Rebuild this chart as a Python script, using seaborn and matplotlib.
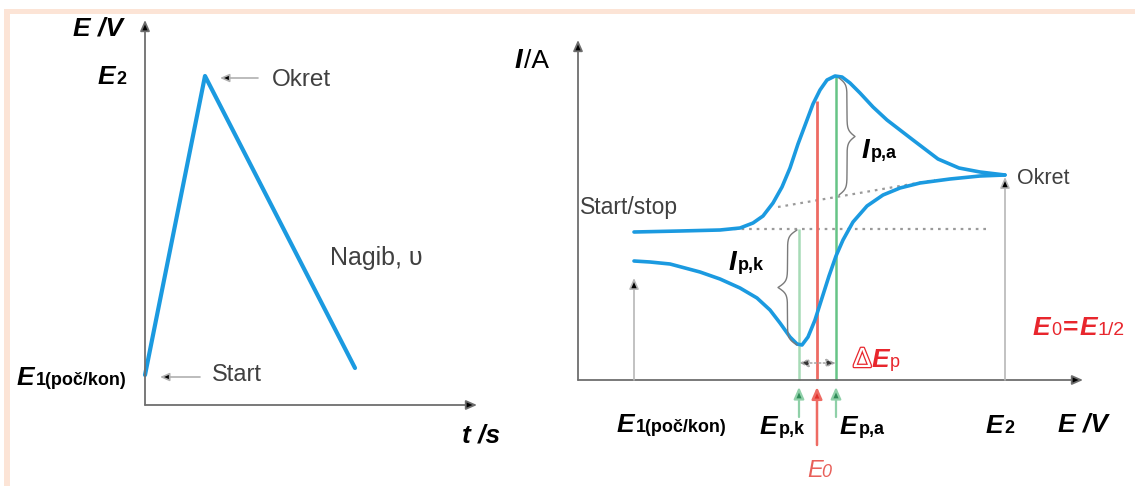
import numpy as np
import matplotlib
matplotlib.use('Agg')
import matplotlib.pyplot as plt
import matplotlib.patheffects as pe
from matplotlib.patches import Rectangle
import seaborn as sns

# Potential sweep (left panel), schematic units
sweep_t = [0.00, 0.60, 2.10]
sweep_E = [0.30, 3.29, 0.37]

# Cyclic voltammogram (right panel), schematic units
fwd_E = [0.56, 1.02, 1.42, 1.62, 1.75, 1.85, 1.95, 2.04, 2.12, 2.20, 2.29, 2.35, 2.42,
         2.49, 2.57, 2.64, 2.72, 2.82, 2.95, 3.09, 3.22, 3.35, 3.60, 3.81, 4.02, 4.27]
fwd_I = [1.48, 1.49, 1.50, 1.52, 1.57, 1.64, 1.77, 1.93, 2.12, 2.36, 2.60, 2.76, 2.90,
         3.00, 3.04, 3.03, 2.97, 2.87, 2.73, 2.60, 2.50, 2.40, 2.21, 2.12, 2.08, 2.05]
rev_E = [4.27, 4.02, 3.72, 3.42, 3.22, 3.05, 2.89, 2.75, 2.65, 2.58, 2.51, 2.44, 2.37,
         2.30, 2.24, 2.19, 2.12, 2.02, 1.92, 1.79, 1.62, 1.42, 1.22, 0.92, 0.72, 0.56]
rev_I = [2.05, 2.04, 2.01, 1.97, 1.92, 1.85, 1.74, 1.58, 1.40, 1.24, 1.04, 0.82, 0.60,
         0.43, 0.35, 0.36, 0.43, 0.57, 0.70, 0.82, 0.92, 1.01, 1.08, 1.16, 1.18, 1.19]

E_start, E_pk, E_0, E_pa, E_turn = 0.56, 2.21, 2.39, 2.58, 4.27
I_pa, I_0 = 3.03, 2.79
I_base = 1.51                         # horizontal baseline
slope_E = [2.00, 3.57]                # slanted baseline
slope_I = [1.73, 2.00]

W, H = 1135, 486
BLUE = '#1b9ae0'
GRAY = '#6e6e6e'
TXT = '#404040'
RED = '#e8262d'

sns.set_style('white')
plt.rcParams['font.family'] = ['Liberation Sans', 'DejaVu Sans']

fig = plt.figure(figsize=(W / 100, H / 100), dpi=100)
fig.patch.set_facecolor('white')

# pale frame on top and left
fig.add_artist(Rectangle((4 / W, 0), 6 / W, 1 - 9 / H, transform=fig.transFigure,
                         color='#fce4d6', lw=0))
fig.add_artist(Rectangle((4 / W, 1 - 14 / H), 1 - 4 / W, 5 / H, transform=fig.transFigure,
                         color='#fce4d6', lw=0))


def box(x0, y0, x1, y1):
    return [x0 / W, 1 - y1 / H, (x1 - x0) / W, (y1 - y0) / H]


def arrow(ax, tip, tail, fc='black', ec=GRAY, lw=1.3, ms=13, ls='-'):
    ax.annotate('', xy=tip, xytext=tail,
                arrowprops=dict(arrowstyle='-|>,head_length=0.5,head_width=0.22',
                                fc=fc, ec=ec, lw=lw, mutation_scale=ms,
                                shrinkA=0, shrinkB=0, ls=ls))


renderer = fig.canvas.get_renderer()


def label(x, y, parts, color='black'):
    # parts: (text, size, weight, style) drawn left to right on one baseline
    cx = x
    for s, size, weight, style in parts:
        t = fig.text(cx / W, 1 - y / H, s, fontsize=size, fontweight=weight,
                     fontstyle=style, color=color, ha='left', va='baseline')
        cx = t.get_window_extent(renderer).x1 + 1
    return cx


def brace(ax, x, y0, y1, w, direction, beta=32):
    n = 201
    ys = np.linspace(y0, y1, n)
    half = ys[:n // 2 + 1]
    off = 1 / (1 + np.exp(-beta * (half - half[0]))) + 1 / (1 + np.exp(-beta * (half - half[-1])))
    off = np.concatenate((off, off[-2::-1]))
    xs = x + direction * (off - 0.5) * w
    ax.plot(xs, ys, color='#7a7a7a', lw=1.0)


# ---------------- left panel: E vs t ----------------
axL = fig.add_axes(box(130, 10, 490, 420))
axL.set_xlim(-0.15, 3.45)
axL.set_ylim(-0.15, 3.95)
axL.axis('off')
arrow(axL, (0, 3.85), (0, 0))
arrow(axL, (3.32, 0), (0, 0))
sns.lineplot(x=sweep_t, y=sweep_E, ax=axL, sort=False, estimator=None,
             color=BLUE, lw=3.0)
arrow(axL, (sweep_t[1] + 0.15, sweep_E[1] - 0.02), (sweep_t[1] + 0.53, sweep_E[1] - 0.02),
      ec='#b0b0b0', lw=1.2, ms=11)
arrow(axL, (0.15, 0.28), (0.55, 0.28), ec='#b0b0b0', lw=1.2, ms=11)

label(73, 36, [('E /V', 19, 'bold', 'italic')])
label(98, 84, [('E', 19, 'bold', 'italic'), ('2', 13, 'bold', 'normal')])
label(17, 385, [('E', 19, 'bold', 'italic'), ('1(poč/kon)', 13, 'bold', 'normal')])
label(462, 442, [('t /s', 19, 'bold', 'italic')])
fig.text(272 / W, 1 - 86 / H, 'Okret', fontsize=17.5, color=TXT, va='baseline')
fig.text(212 / W, 1 - 381 / H, 'Start', fontsize=17, color=TXT, va='baseline')
fig.text(330 / W, 1 - 265 / H, 'Nagib, υ', fontsize=18, color=TXT, va='baseline')

# ---------------- right panel: I vs E ----------------
axR = fig.add_axes(box(560, 30, 1100, 480))
axR.set_xlim(-0.18, 5.22)
axR.set_ylim(-1.00, 3.50)
axR.axis('off')
arrow(axR, (0, 3.40), (0, 0))
arrow(axR, (5.05, 0), (0, 0))

# construction lines
axR.plot([1.56, 4.08], [I_base, I_base], color='#9a9a9a', lw=1.6, ls=(0, (1.2, 2.2)))
axR.plot(slope_E, slope_I, color='#9a9a9a', lw=1.6, ls=(0, (1.2, 2.2)))
axR.vlines(E_pk, 0, I_base, color='#a6dbb6', lw=1.8)
axR.vlines(E_pa, 0, I_pa, color='#66c486', lw=1.8)
axR.vlines(E_0, 0, I_0, color='#ee6b63', lw=2.0)

sns.lineplot(x=fwd_E, y=fwd_I, ax=axR, sort=False, estimator=None, color=BLUE, lw=2.6)
sns.lineplot(x=rev_E, y=rev_I, ax=axR, sort=False, estimator=None, color=BLUE, lw=2.6)

arrow(axR, (E_start, 1.02), (E_start, 0), ec='#b8b8b8', lw=1.2, ms=13)
arrow(axR, (E_turn, 2.03), (E_turn, 0), ec='#b8b8b8', lw=1.2, ms=13)

brace(axR, 2.61, 1.85, 3.02, 0.16, +1)
brace(axR, 2.19, 0.35, 1.50, 0.19, -1)

# delta Ep double arrow
axR.annotate('', xy=(E_pk, 0.17), xytext=(E_pa, 0.17),
             arrowprops=dict(arrowstyle='<|-|>,head_length=0.5,head_width=0.22',
                             fc='#333333', ec='#aaaaaa', lw=1.2, ls=':',
                             mutation_scale=11, shrinkA=0, shrinkB=0))

# arrows under the E axis
arrow(axR, (E_pk, -0.07), (E_pk, -0.37), fc='#2e8b57', ec='#8fd0a8', lw=1.6, ms=14)
arrow(axR, (E_pa, -0.07), (E_pa, -0.37), fc='#2e8b57', ec='#8fd0a8', lw=1.6, ms=14)
arrow(axR, (E_0, -0.07), (E_0, -0.65), fc='#e0302c', ec='#ee6b63', lw=1.8, ms=14)

label(515, 68, [('I', 20, 'bold', 'italic'), ('/A', 19, 'normal', 'normal')])
fig.text(580 / W, 1 - 214 / H, 'Start/stop', fontsize=16.5, color=TXT, va='baseline')
fig.text(1017 / W, 1 - 184 / H, 'Okret', fontsize=15.5, color=TXT, va='baseline')
label(862, 158, [('I', 20, 'bold', 'italic'), ('p,a', 13, 'bold', 'normal')])
label(729, 270, [('I', 20, 'bold', 'italic'), ('p,k', 13, 'bold', 'normal')])
label(1033, 335, [('E', 19, 'bold', 'italic'), ('0', 13, 'normal', 'normal'),
                  ('=', 19, 'bold', 'normal'), ('E', 19, 'bold', 'italic'),
                  ('1/2', 14, 'normal', 'normal')], color=RED)

t = fig.text(853 / W, 1 - 367 / H, 'Δ', fontsize=20, color='white', va='baseline',
             path_effects=[pe.withStroke(linewidth=1.8, foreground=RED)])
cx = t.get_window_extent(renderer).x1
label(cx, 367, [('E', 19, 'bold', 'italic'), ('p', 13, 'normal', 'normal')], color=RED)

label(617, 432, [('E', 19, 'bold', 'italic'), ('1(poč/kon)', 13, 'bold', 'normal')])
label(760, 434, [('E', 19, 'bold', 'italic'), ('p,k', 13, 'bold', 'normal')])
label(840, 434, [('E', 19, 'bold', 'italic'), ('p,a', 13, 'bold', 'normal')])
label(986, 433, [('E', 19, 'bold', 'italic'), ('2', 13, 'bold', 'normal')])
label(1058, 431, [('E /V', 19, 'bold', 'italic')])
fig.text(807 / W, 1 - 477 / H, 'E', fontsize=17, fontstyle='italic', color='#e8605a',
         va='baseline')
fig.text(821 / W, 1 - 477 / H, '0', fontsize=13, fontstyle='italic', color='#e8605a',
         va='baseline')

fig.savefig('out.png', dpi=100, facecolor='white')
